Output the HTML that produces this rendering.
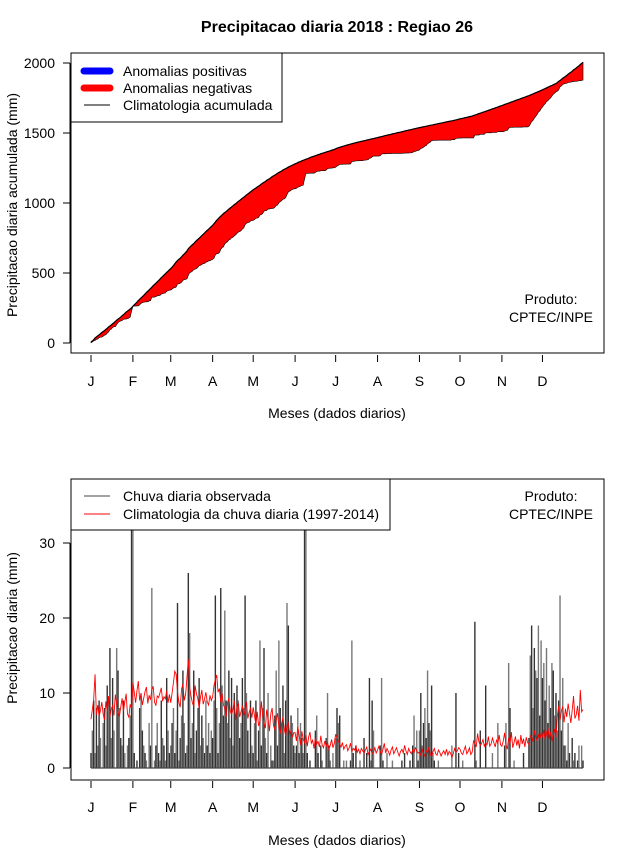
<!DOCTYPE html>
<html><head><meta charset="utf-8"><style>
html,body{margin:0;padding:0;background:#fff}
svg{display:block;font-family:"Liberation Sans",Arial,sans-serif}
</style></head><body>
<svg id="svg" width="640" height="850" xmlns="http://www.w3.org/2000/svg">
<defs>
<clipPath id="topclip"><rect x="71" y="53" width="533" height="300"/></clipPath>
<clipPath id="botclip"><rect x="71" y="479" width="533" height="301"/></clipPath>
</defs>
<text x="337" y="32" text-anchor="middle" font-size="16" font-weight="bold">Precipitacao diaria 2018 : Regiao 26</text>
<g id="topPanel"></g>
<g id="botPanel"></g>
</svg>
<script>
const months = ["J","F","M","A","M","J","J","A","S","O","N","D"];
const monthStartDay = [1,32,60,91,121,152,182,213,244,274,305,335];
const cumTicks = [0,500,1000,1500,2000];
const dailyTicks = [0,10,20,30];
const climDaily = [
6.5,7.8,9.2,12.5,7.1,8.4,6.9,7.7,8.8,7.2,6.4,8.9,7.5,9.6,6.8,7.9,8.3,7.0,9.8,8.6,7.4,6.9,8.1,9.3,7.6,8.8,9.9,7.2,6.8,8.5,7.9,
11.4,10.1,8.7,10.3,11.6,9.0,9.9,8.4,9.3,10.2,10.8,8.6,9.7,9.1,10.4,10.9,8.8,8.3,9.6,9.4,10.0,10.7,8.9,9.5,9.2,10.3,8.7,9.8,
8.7,10.0,11.4,12.9,12.5,10.2,8.8,8.1,10.5,11.2,9.0,9.8,12.1,14.5,10.8,9.6,8.7,8.2,11.0,9.9,9.3,8.0,9.4,10.4,8.5,9.2,10.1,8.8,8.4,9.7,9.0,
9.5,11.0,11.8,12.4,10.1,10.6,8.8,9.9,8.4,8.0,6.8,8.7,9.3,7.6,7.1,7.8,9.0,6.4,8.1,8.6,6.8,7.5,8.3,7.0,7.7,8.8,6.6,7.4,8.0,6.7,
8.1,6.9,5.8,7.5,5.6,6.2,8.9,7.1,6.0,5.3,7.8,6.5,4.9,7.2,8.0,5.7,5.1,6.4,7.3,5.5,4.6,5.9,6.8,5.2,4.3,5.6,6.1,4.5,5.0,4.1,4.7,
4.7,3.6,5.5,4.3,3.1,4.9,3.8,3.4,4.4,2.9,4.1,4.8,3.3,3.7,2.6,4.0,3.2,3.5,2.8,4.3,3.1,2.7,3.6,2.9,3.4,2.5,3.0,3.8,2.7,3.3,
4.5,4.0,3.6,3.2,2.8,3.4,2.5,2.9,3.1,2.3,2.7,3.3,2.2,2.6,2.4,2.9,2.1,2.5,1.9,2.6,2.3,2.0,2.4,2.8,1.8,2.2,2.5,1.9,2.1,2.7,2.0,
2.4,2.9,2.1,1.8,2.5,3.3,2.0,2.6,2.2,1.7,2.4,2.8,1.9,2.3,2.7,2.1,1.6,2.2,2.5,2.0,3.0,2.3,1.8,2.6,2.2,1.9,2.4,2.1,2.7,2.3,2.0,
2.1,1.7,2.5,1.9,1.6,2.3,2.0,2.8,1.8,1.5,2.2,2.6,1.9,1.7,2.4,2.1,1.6,2.0,2.3,1.8,2.5,1.7,2.2,2.0,1.4,1.9,2.6,2.1,2.3,2.7,
2.5,2.0,1.8,2.4,2.9,1.9,2.2,2.7,1.8,2.1,3.6,3.3,2.8,4.6,3.5,3.0,3.3,3.8,2.9,3.4,3.1,4.2,2.9,3.2,4.0,3.4,2.8,3.7,3.3,4.4,3.1,
2.9,3.6,4.7,3.1,2.5,4.0,3.3,4.8,2.7,3.4,4.2,3.0,3.8,2.6,4.4,3.2,3.9,2.8,4.1,3.4,3.1,4.3,4.2,3.5,5.0,4.1,3.7,4.4,3.8,4.6,
4.2,5.1,3.8,4.6,5.4,3.9,4.8,3.6,4.5,5.2,4.1,6.9,8.3,6.4,7.6,8.2,6.1,7.9,6.8,8.6,7.3,6.0,7.7,9.6,6.6,7.1,8.3,6.3,10.4,7.5,7.8];
const obsDaily = [
2,5,9,2,8,3,9,4,0,6,8,3,11,9,16,4,12,5,0,16,13,8,4,3,9,2,0,3,4,7,42,
35,2,0,1,0,8,10,5,3,2,1,0,6,3,24,0,1,3,6,2,1,9,4,3,1,12,5,2,
3,6,8,2,5,22,1,4,7,13,6,2,3,26,18,4,6,13,2,5,8,12,3,7,4,2,9,3,6,2,5,
4,9,23,8,2,6,24,11,7,21,9,6,13,4,12,3,10,7,11,9,4,6,12,8,23,10,5,2,9,3,
2,6,9,1,5,17,3,8,16,4,2,10,0,3,1,1,7,13,3,17,8,6,11,2,9,22,19,5,7,6,3,
2,3,8,2,6,4,2,45,38,2,0,1,0,0,0,5,7,2,0,3,1,0,0,4,10,3,1,0,2,0,
4,8,6,7,0,0,1,0,1,0,0,1,17,2,0,3,0,0,1,0,0,4,0,2,0,12,1,9,5,0,0,
0,0,3,12,1,0,0,2,0,0,0,1,0,0,0,0,0,0,1,0,2,0,0,0,1,0,3,7,0,5,1,
5,10,3,6,8,4,13,6,5,11,2,1,0,0,1,0,0,0,0,0,0,0,0,0,3,0,0,10,0,2,
0,0,1,0,0,0,0,0,0,0,0,19.5,1,0,0,5,0,0,0,11,0,0,0,0,2,0,0,0,6,0,0,
0,0,3,6,0,14,8,0,0,1,0,0,0,0,0,0,2,0,0,0,4,15,19,8,16,13,12,19,7,17,
12,14,9,16,6,11,8,14,13,7,10,5,9,23,5,12,3,3,1,6,2,0,4,1,2,0,1,3,0,3,1];

const NS="http://www.w3.org/2000/svg";
function mk(parent,tag,attrs,text){const e=document.createElementNS(NS,tag);for(const k in attrs)e.setAttribute(k,attrs[k]);if(text!==undefined)e.textContent=text;parent.appendChild(e);return e;}
const N=365;
const xDay=d=>91+(d-1)*(583-91)/(N-1);
const yCum=v=>343-v*0.14;
const yDay=v=>768-v*7.5;

function cum(a){let s=0;return a.slice(0,N).map(v=>(s+=v));}
const climCum=cum(climDaily), obsCum=cum(obsDaily);

// ---------- TOP PANEL ----------
const topPanel=document.getElementById('topPanel');
const gTop=mk(topPanel,'g',{'clip-path':'url(#topclip)'});
let up=[],dn=[];
for(let i=0;i<climCum.length;i++){up.push(xDay(i+1)+','+yCum(climCum[i]));}
for(let i=obsCum.length-1;i>=0;i--){dn.push(xDay(i+1)+','+yCum(obsCum[i]));}
const area=mk(gTop,'polygon',{points:up.concat(dn).join(' '),fill:'#ff0000',stroke:'#000','stroke-width':'0.6'});


const climLine=mk(gTop,'polyline',{points:up.join(' '),fill:'none',stroke:'#000','stroke-width':'1.2'});



mk(topPanel,'rect',{x:71,y:53,width:533,height:300,fill:'none',stroke:'#000','stroke-width':1});
mk(topPanel,'line',{x1:70,y1:yCum(0),x2:70,y2:yCum(2000),stroke:'#000'});
cumTicks.forEach(t=>{
  mk(topPanel,'line',{x1:63,y1:yCum(t),x2:70,y2:yCum(t),stroke:'#000'});
  const l=mk(topPanel,'text',{x:55,y:yCum(t)+5,'text-anchor':'end','font-size':14},String(t));
  
  
});
months.forEach((m,i)=>{
  const x=xDay(monthStartDay[i]);
  mk(topPanel,'line',{x1:x,y1:355,x2:x,y2:362,stroke:'#000'});
  const l=mk(topPanel,'text',{x:x,y:386,'text-anchor':'middle','font-size':14},m);
  
  
});
mk(topPanel,'text',{x:337,y:418,'text-anchor':'middle','font-size':14,},'Meses (dados diarios)');
mk(topPanel,'text',{x:17,y:205,'text-anchor':'middle','font-size':14,transform:'rotate(-90 17 205)',},'Precipitacao diaria acumulada (mm)');
mk(topPanel,'text',{x:551,y:304,'text-anchor':'middle','font-size':14,},'Produto:');
mk(topPanel,'text',{x:551,y:322,'text-anchor':'middle','font-size':14,},'CPTEC/INPE');
const lg=mk(topPanel,'g',{});
mk(lg,'rect',{x:71,y:53,width:211,height:69,fill:'#fff',stroke:'#000'});
mk(lg,'line',{x1:84,y1:71,x2:110,y2:71,stroke:'#0000ff','stroke-width':7,'stroke-linecap':'round'});
mk(lg,'line',{x1:84,y1:88,x2:110,y2:88,stroke:'#ff0000','stroke-width':7,'stroke-linecap':'round'});
mk(lg,'line',{x1:84,y1:105,x2:110,y2:105,stroke:'#000','stroke-width':1});
mk(lg,'text',{x:123,y:76,'font-size':14,},'Anomalias positivas');
mk(lg,'text',{x:123,y:93,'font-size':14,},'Anomalias negativas');
mk(lg,'text',{x:123,y:110,'font-size':14,},'Climatologia acumulada');

// ---------- BOTTOM PANEL ----------
const botPanel=document.getElementById('botPanel');
const gB=mk(botPanel,'g',{'clip-path':'url(#botclip)'});
for(let i=0;i<obsDaily.length;i++){
  const v=obsDaily[i]; if(!v) continue;
  const b=mk(gB,'line',{x1:xDay(i+1),y1:yDay(0),x2:xDay(i+1),y2:yDay(v),stroke:(i%2?'#777':'#333'),'stroke-width':1.4});
  
  
}
const base=mk(gB,'line',{x1:xDay(1),y1:yDay(0),x2:xDay(N),y2:yDay(0),stroke:'#444','stroke-width':1.2});


let cp=[];for(let i=0;i<climDaily.length;i++)cp.push(xDay(i+1)+','+yDay(climDaily[i]));
const cl=mk(gB,'polyline',{points:cp.join(' '),fill:'none',stroke:'#ff0000','stroke-width':0.9});



mk(botPanel,'rect',{x:71,y:479,width:533,height:301,fill:'none',stroke:'#000'});
mk(botPanel,'line',{x1:70,y1:yDay(0),x2:70,y2:yDay(30),stroke:'#000'});
dailyTicks.forEach(t=>{
  mk(botPanel,'line',{x1:63,y1:yDay(t),x2:70,y2:yDay(t),stroke:'#000'});
  const l=mk(botPanel,'text',{x:55,y:yDay(t)+5,'text-anchor':'end','font-size':14},String(t));
  
  
});
months.forEach((m,i)=>{
  const x=xDay(monthStartDay[i]);
  mk(botPanel,'line',{x1:x,y1:781,x2:x,y2:788,stroke:'#000'});
  const l=mk(botPanel,'text',{x:x,y:812,'text-anchor':'middle','font-size':14},m);
  
  
});
mk(botPanel,'text',{x:337,y:845,'text-anchor':'middle','font-size':14,},'Meses (dados diarios)');
mk(botPanel,'text',{x:17,y:628,'text-anchor':'middle','font-size':14,transform:'rotate(-90 17 628)',},'Precipitacao diaria (mm)');
mk(botPanel,'text',{x:551,y:501,'text-anchor':'middle','font-size':14,},'Produto:');
mk(botPanel,'text',{x:551,y:519,'text-anchor':'middle','font-size':14,},'CPTEC/INPE');
const lg2=mk(botPanel,'g',{});
mk(lg2,'rect',{x:71,y:479,width:319,height:51,fill:'#fff',stroke:'#000'});
mk(lg2,'line',{x1:84,y1:496,x2:110,y2:496,stroke:'#444','stroke-width':1});
mk(lg2,'line',{x1:84,y1:514,x2:110,y2:514,stroke:'#ff0000','stroke-width':1});
mk(lg2,'text',{x:123,y:501,'font-size':14,},'Chuva diaria observada');
mk(lg2,'text',{x:123,y:519,'font-size':14,},'Climatologia da chuva diaria (1997-2014)');
</script>
</body></html>
